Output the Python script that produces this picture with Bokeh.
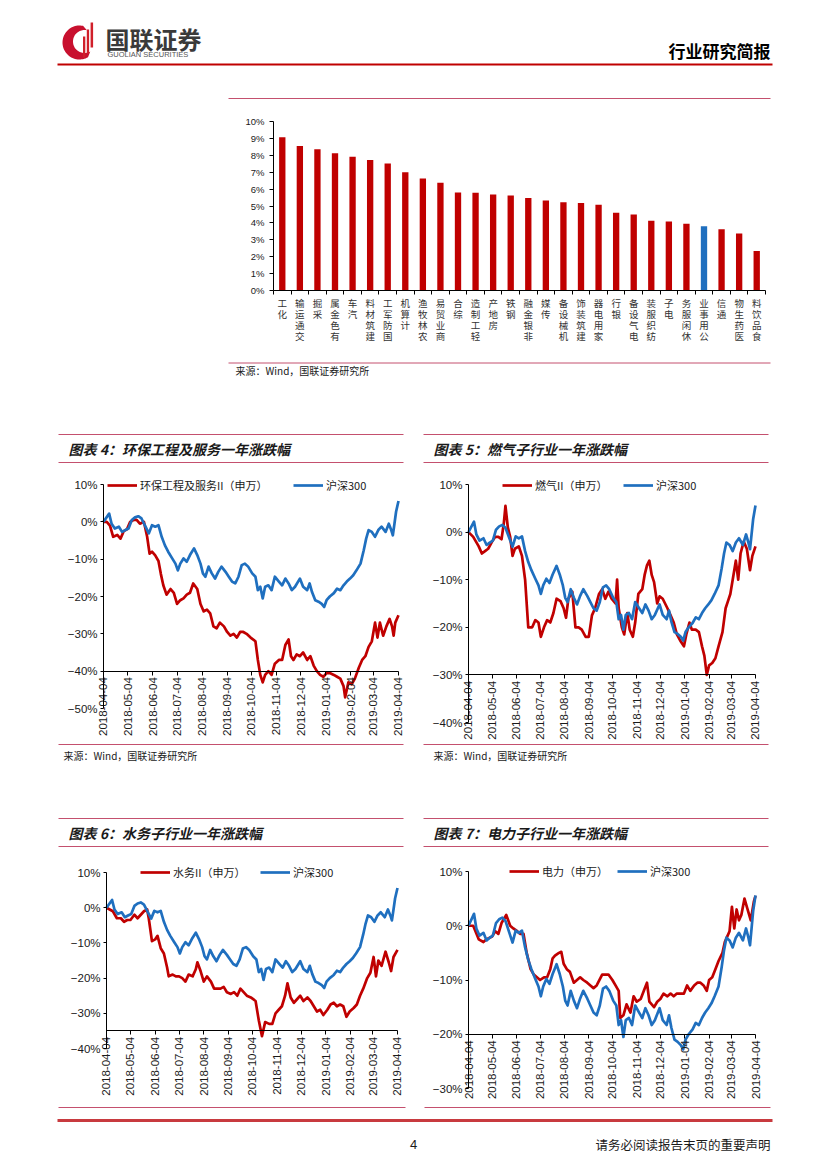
import numpy as np
from bokeh.plotting import figure
from bokeh.layouts import column, row
from bokeh.models import Range1d, FixedTicker, Legend, LegendItem
from bokeh.core.properties import value
from bokeh.embed import file_html
from bokeh.resources import INLINE

# ---------------- data ----------------
sectors = ["化工", "交通运输", "采掘", "有色金属", "汽车", "建筑材料", "国防军工", "计算机",
           "农林牧渔", "商业贸易", "综合", "轻工制造", "房地产", "钢铁", "非银金融", "传媒",
           "机械设备", "建筑装饰", "家用电器", "银行", "电气设备", "纺织服装", "电子",
           "休闲服务", "公用事业", "通信", "医药生物", "食品饮料"]
sector_gain = [9.07, 8.55, 8.36, 8.12, 7.92, 7.72, 7.52, 7.00, 6.63, 6.38, 5.80, 5.78,
               5.68, 5.62, 5.48, 5.32, 5.22, 5.18, 5.08, 4.60, 4.50, 4.13, 4.09, 3.95,
               3.80, 3.62, 3.38, 2.33]
highlight = "公用事业"
bar_ticks = list(range(0, 11))
bar_tick_labels = ["0%", "1%", "2%", "3%", "4%", "5%", "6%", "7%", "8%", "9%", "10%"]

month_days = [0, 30, 61, 91, 122, 153, 183, 214, 244, 275, 306, 334, 365]
month_labels = ["2018-04-04", "2018-05-04", "2018-06-04", "2018-07-04", "2018-08-04",
                "2018-09-04", "2018-10-04", "2018-11-04", "2018-12-04", "2019-01-04",
                "2019-02-04", "2019-03-04", "2019-04-04"]

hs300_days = [0, 7, 10, 14, 19, 23, 27, 31, 35, 39, 43, 47, 52, 56, 60, 64, 68, 72, 76, 80,
              85, 89, 92, 95, 99, 103, 107, 112, 116, 120, 123, 126, 130, 134, 138, 142, 146,
              151, 155, 159, 163, 167, 171, 175, 179, 184, 188, 191, 194, 197, 200, 204, 208,
              212, 217, 221, 225, 229, 233, 237, 243, 247, 252, 255, 258, 262, 266, 270, 273,
              276, 280, 285, 289, 293, 297, 301, 305, 309, 313, 318, 322, 325, 328, 332, 336,
              340, 344, 349, 353, 356, 358, 360, 362, 365]
hs300_pct = [0, 2.2, -0.5, -1.8, -1.3, -2.7, -2.2, -1.8, 0.5, 1.2, 1.5, 0.9, -1.3, -3.1, -0.9,
             -1.3, -0.9, -4.0, -6.3, -8.0, -9.8, -11.2, -13.0, -11.2, -9.8, -10.7, -8.9, -7.1,
             -8.9, -11.2, -13.8, -14.7, -12.0, -13.8, -15.2, -13.4, -12.0, -13.4, -14.7, -16.0,
             -16.5, -14.7, -11.6, -11.2, -12.0, -13.8, -14.7, -18.3, -17.4, -20.5, -17.4, -17.0,
             -18.3, -14.7, -16.0, -17.0, -15.2, -16.5, -18.3, -17.4, -15.2, -17.4, -18.3, -16.5,
             -18.8, -21.0, -21.4, -22.0, -22.8, -21.0, -20.0, -19.1, -17.9, -18.3, -17.0, -16.0,
             -15.2, -14.3, -13.0, -11.2, -7.6, -4.5, -2.2, -2.7, -4.0, -2.2, -1.3, -2.7, -0.5,
             -2.2, -3.6, -0.5, 2.7, 5.6]

env_days = [0, 4, 8, 12, 17, 21, 25, 29, 33, 37, 41, 45, 50, 54, 57, 60, 64, 68, 71, 74, 78, 83,
            87, 91, 95, 99, 103, 107, 111, 116, 120, 124, 128, 132, 136, 140, 144, 149, 153, 157,
            161, 165, 169, 173, 177, 182, 188, 191, 194, 197, 200, 204, 208, 212, 217, 221, 225,
            229, 232, 235, 239, 243, 247, 252, 256, 260, 264, 268, 272, 276, 280, 285, 289, 293,
            297, 299, 303, 307, 311, 316, 320, 324, 328, 332, 336, 339, 342, 346, 350, 354, 357,
            359, 361, 365]
env_pct = [0, 0, -1, -4, -3.5, -4.5, -2.5, -2, 0, 0.5, 0.5, -0.5, 0, -4, -8.5, -8, -9, -10.5, -14,
           -17, -19.5, -18, -19, -22, -21, -20.5, -19.5, -19, -16.5, -18, -22, -24, -23.5, -24.5,
           -28, -28.5, -27, -28, -29.5, -30.5, -30, -31, -29.5, -29.5, -30, -31, -32, -37, -41,
           -43, -41, -40, -41, -38, -37, -37, -33, -31.5, -36, -37, -35.5, -36, -35, -37, -36,
           -38.5, -40, -41, -41.5, -40.5, -40.5, -41, -41.5, -42, -44, -47, -43, -43.5, -42, -39,
           -37, -36, -33.5, -32, -27, -31, -27, -30.5, -28, -26, -28, -30.5, -27, -25]

gas_days = [0, 6, 13, 17, 21, 25, 30, 34, 38, 42, 45, 47, 50, 53, 56, 59, 64, 68, 72, 76, 81, 85,
            89, 92, 96, 100, 104, 108, 112, 117, 121, 124, 127, 132, 136, 140, 144, 149, 153, 157,
            161, 166, 170, 174, 178, 182, 187, 189, 191, 195, 198, 202, 205, 209, 212, 216, 221,
            224, 227, 230, 233, 236, 240, 243, 247, 253, 257, 261, 265, 270, 274, 277, 281, 284,
            289, 293, 297, 300, 303, 306, 310, 314, 318, 323, 327, 330, 333, 337, 340, 343, 346,
            350, 354, 358, 361, 365]
gas_pct = [0, -1, -3, -4.5, -4, -3.5, -2, -1, -1, -1.5, 2, 5.5, 1, -1, -5, -3.5, -3, -5, -10, -20,
           -20, -18.5, -19, -22, -20, -18.5, -19, -17, -14, -14.5, -16, -18, -14, -12.5, -20, -20,
           -20.5, -22, -22, -17.5, -16, -13, -12, -14, -12.5, -14, -15, -10, -16, -20, -21.5, -17,
           -20.5, -22, -19, -13, -12, -9, -7, -6, -9, -10.5, -15, -13.5, -14, -16, -17.5, -19,
           -21.5, -23, -24, -21.5, -19, -20.5, -20.5, -21, -24, -26, -30, -28, -27.5, -26.5, -24,
           -21, -16, -14.5, -13, -9, -6, -10, -4.5, -2, -3.5, -8, -5, -3]

water_days = [0, 8, 13, 18, 22, 26, 30, 35, 39, 43, 47, 51, 53, 57, 61, 64, 68, 72, 76, 78, 83,
              87, 91, 95, 99, 103, 108, 112, 114, 118, 122, 126, 131, 135, 139, 143, 147, 151,
              156, 160, 164, 168, 172, 176, 181, 187, 191, 195, 199, 204, 208, 212, 216, 220,
              224, 227, 231, 235, 239, 243, 247, 252, 256, 260, 264, 268, 272, 277, 281, 285,
              289, 293, 297, 301, 305, 310, 314, 318, 322, 327, 331, 335, 338, 341, 345, 350,
              354, 357, 360, 365]
water_pct = [0, -1, -3, -3, -4, -3.5, -3.5, -2, -3, -2, -1, -0.5, -3, -9.5, -9, -8, -11.5, -13,
             -17, -19.5, -19, -19.5, -19.5, -20, -21, -19, -19.5, -17.5, -15.5, -18, -21, -19.5,
             -21, -23, -23, -23, -22.5, -24, -24.5, -24, -25, -23, -24, -25, -25.5, -26.5, -32,
             -36.5, -32.5, -33, -33, -30, -29, -28, -25, -21.5, -25.5, -27, -26, -25, -26.5,
             -25.5, -26.5, -28, -29.5, -29, -30.5, -29, -27.5, -27, -28, -27.5, -28, -31, -29.5,
             -28.5, -27.5, -25, -23, -20, -18.5, -14, -19.5, -15, -16.5, -12.5, -15.5, -18, -14,
             -12]

power_days = [0, 6, 13, 19, 23, 30, 34, 38, 42, 48, 53, 57, 62, 66, 70, 74, 79, 83, 87, 91, 96,
              100, 104, 107, 110, 115, 118, 121, 125, 129, 134, 138, 142, 146, 151, 155, 159,
              163, 170, 174, 178, 183, 187, 191, 193, 197, 201, 206, 210, 214, 219, 223, 227,
              230, 236, 240, 244, 248, 253, 257, 261, 265, 270, 274, 278, 282, 287, 291, 295,
              299, 303, 306, 310, 314, 318, 323, 326, 329, 332, 335, 338, 341, 344, 347, 351,
              354, 359, 363, 365]
power_pct = [0, 0, -2.5, -3, -2.5, -2, -1, -1.5, 0.5, 2, 0, -0.5, -1, -1.5, -1.5, -5, -8, -9,
             -9.5, -10, -9.5, -9.5, -8, -6, -5.5, -5, -4.8, -7, -8, -8.5, -10.5, -10, -9.5, -10,
             -10.5, -11, -11.5, -11, -9, -9, -9, -10, -11, -12, -17, -16.5, -14.5, -16, -13, -14,
             -13.5, -12, -10.5, -14, -15, -14, -13.5, -12.5, -13, -12.5, -13, -12.5, -12.5,
             -12.5, -11, -12, -11, -10.5, -10.5, -11, -12, -10, -9.5, -8, -6.5, -5, -3, -2, -1,
             3.5, -0.5, 3, 1, 2, 5, 3.5, 1, 4.5, 5.5]

# ---------------- style ----------------
CJK = "Noto Sans CJK SC"
LAT = "Liberation Sans"
RED = "#C00000"
BLUE = "#1F6FBF"
PINK = "#C4506E"
DARK = "#1a1a1a"
W = 827


def decor(top, bottom):
    p = figure(width=W, height=bottom - top, x_range=Range1d(0, W), y_range=Range1d(bottom, top),
               toolbar_location=None, output_backend="svg", title=None,
               x_axis_location=None, y_axis_location=None,
               min_border_left=0, min_border_right=0, min_border_top=0, min_border_bottom=0,
               outline_line_color=None)
    p.grid.visible = False
    return p


def hline(p, x0, x1, y, color=PINK, w=1.0):
    p.line([x0, x1], [y, y], line_color=color, line_width=w)


def txt(p, x, y, s, size, font=CJK, color=DARK, align="left", style="normal"):
    p.text(x=[x], y=[y], text=[s], text_font=value(font), text_font_size=value(size),
           text_color=color, text_align=align, text_baseline="middle", text_font_style=style)


# ---------------- header ----------------
hdr = decor(0, 105)
th = np.radians(np.linspace(78, 300, 50))
ox = 79 + 17 * np.cos(th)
oy = 42 - 17 * np.sin(th)
ix = 84 + 11.5 * np.cos(th[::-1])
iy = 41 - 11.5 * np.sin(th[::-1])
hdr.patch(list(ox) + list(ix), list(oy) + list(iy), fill_color="#C8102E", line_color=None)
hdr.quad(left=[82.5, 86.3, 90.1], right=[84.8, 88.6, 92.6], top=[36, 29, 22], bottom=[57, 53, 47],
         fill_color="#D0202A", line_color=None)
txt(hdr, 105, 37.5, "国联证券", "24px", color="#3a3a3a", style="bold")
txt(hdr, 107, 53.5, "GUOLIAN SECURITIES", "7.5px", font=LAT, color="#555555")
txt(hdr, 770, 50, "行业研究简报", "17px", color="#000000", align="right", style="bold")
hline(hdr, 57, 772, 64, color=RED, w=2)
hline(hdr, 228, 770, 98, color=PINK, w=1)

# ---------------- bar chart ----------------
pb = figure(width=W, height=255, x_range=Range1d(-0.5, len(sectors) - 0.5), y_range=Range1d(0, 10),
            toolbar_location=None, output_backend="svg", title=None,
            min_border_left=273, min_border_right=62, min_border_top=16, min_border_bottom=70,
            outline_line_color=None)
pb.grid.visible = False
bar_colors = [BLUE if s == highlight else RED for s in sectors]
pb.vbar(x=list(range(len(sectors))), top=sector_gain, width=0.36, fill_color=bar_colors, line_color=None)
ya = pb.yaxis[0]
ya.ticker = FixedTicker(ticks=bar_ticks)
ya.major_label_overrides = dict(zip(bar_ticks, bar_tick_labels))
ya.major_label_text_font = LAT
ya.major_label_text_font_size = "9.5px"
ya.major_label_text_color = DARK
ya.major_tick_out = 4
ya.major_tick_in = 0
ya.minor_tick_line_color = None
ya.major_label_standoff = 5
ya.axis_line_color = "#000000"
xa = pb.xaxis[0]
xa.ticker = FixedTicker(ticks=list(range(len(sectors))),
                        minor_ticks=[i - 0.5 for i in range(len(sectors) + 1)])
xa.major_label_overrides = {i: "\n".join(reversed(s)) for i, s in enumerate(sectors)}
xa.major_tick_out = 0
xa.major_tick_in = 0
xa.minor_tick_out = 4
xa.minor_tick_in = 0
xa.major_label_standoff = 1
xa.major_label_text_font = CJK
xa.major_label_text_font_size = "9.5px"
xa.major_label_text_line_height = 0.8
xa.major_label_text_color = "#333333"
xa.axis_line_color = "#000000"

# ---------------- decor between ----------------
mid1 = decor(360, 466)
hline(mid1, 228, 770, 362.5)
txt(mid1, 235, 370, "来源：Wind，国联证券研究所", "10px")
for x0, x1 in [(58, 403), (423, 768)]:
    hline(mid1, x0, x1, 434)
    hline(mid1, x0, x1, 462)
txt(mid1, 68, 448, "图表 4：环保工程及服务一年涨跌幅", "14px", style="bold italic")
txt(mid1, 433, 448, "图表 5：燃气子行业一年涨跌幅", "14px", style="bold italic")


def line_chart(width, height, left_px, plot_w, top_px, px_per_pct, tick_min, axis_at,
               days, pct, label, lx_red, lx_blue, leg_y):
    # whole figure is the frame; axes sit at fixed locations inside it
    px_per_day = plot_w / 365.0
    x0 = -left_px / px_per_day
    x1 = 365 + (width - left_px - plot_w) / px_per_day
    y1 = 10 + top_px / px_per_pct
    y0 = 10 - (height - top_px) / px_per_pct
    p = figure(width=width, height=height, x_range=Range1d(x0, x1), y_range=Range1d(y0, y1),
               toolbar_location=None, output_backend="svg", title=None,
               min_border_left=0, min_border_right=0, min_border_top=0, min_border_bottom=0,
               outline_line_color=None)
    p.grid.visible = False
    yax = p.yaxis[0]
    yt = list(range(tick_min, 11, 10))
    yax.ticker = FixedTicker(ticks=yt)
    yax.bounds = (tick_min, 10)
    yax.fixed_location = 0
    yax.major_label_overrides = {t: (f"{t}%").replace("-", "\u2212") for t in yt}
    yax.major_label_text_font = LAT
    yax.major_label_text_font_size = "11.5px"
    yax.major_label_text_color = DARK
    yax.major_tick_out = 3
    yax.major_tick_in = 0
    yax.minor_tick_line_color = None
    yax.major_label_standoff = 3
    yax.axis_line_color = "#000000"
    xax = p.xaxis[0]
    xax.ticker = FixedTicker(ticks=month_days)
    xax.bounds = (0, 365)
    xax.major_label_overrides = dict(zip(month_days, month_labels))
    xax.major_label_orientation = np.pi / 2
    xax.fixed_location = axis_at
    xax.major_label_text_font = LAT
    xax.major_label_text_font_size = "11.5px"
    xax.major_label_text_color = DARK
    xax.major_tick_out = 4
    xax.major_tick_in = 0
    xax.minor_tick_line_color = None
    xax.major_label_standoff = 2
    xax.axis_line_color = "#000000"
    r_red = p.line(days, pct, line_color=RED, line_width=2.7, line_join="round")
    r_blue = p.line(hs300_days, hs300_pct, line_color=BLUE, line_width=2.7, line_join="round")
    for r, lab, lx in [(r_red, label, lx_red), (r_blue, "沪深300", lx_blue)]:
        leg = Legend(items=[LegendItem(label=lab, renderers=[r])], location=(lx, leg_y),
                     orientation="horizontal", background_fill_alpha=0, border_line_color=None,
                     padding=0, margin=0, spacing=0, glyph_width=30, glyph_height=16,
                     label_height=16, label_width=10, label_standoff=3,
                     label_text_font=CJK, label_text_font_size="11px", label_text_color=DARK)
        p.add_layout(leg)
    return p


# row 1 : page y 466..740 ; 10% level at y=484
c4 = line_chart(415, 274, 103, 295, 18, 224 / 60, -50, -40, env_days, env_pct,
                "环保工程及服务II（申万）", 107, 293, 247)
c5 = line_chart(412, 274, 53, 287, 18, 238 / 50, -40, -30, gas_days, gas_pct,
                "燃气II（申万）", 87, 208, 247)

mid2 = decor(740, 850)
for x0, x1 in [(58, 403), (423, 768)]:
    hline(mid2, x0, x1, 744)
    hline(mid2, x0, x1, 818)
    hline(mid2, x0, x1, 846)
txt(mid2, 63, 755, "来源：Wind，国联证券研究所", "10px")
txt(mid2, 433, 755, "来源：Wind，国联证券研究所", "10px")
txt(mid2, 68, 832, "图表 6：水务子行业一年涨跌幅", "14px", style="bold italic")
txt(mid2, 433, 832, "图表 7：电力子行业一年涨跌幅", "14px", style="bold italic")

# row 2 : page y 850..1104
c6 = line_chart(415, 254, 106, 291, 22, 176 / 50, -40, -35, water_days, water_pct,
                "水务II（申万）", 140, 260, 224)
c7 = line_chart(412, 254, 53, 287, 21, 217 / 40, -30, -20, power_days, power_pct,
                "电力（申万）", 94, 202, 225)

ftr = decor(1104, 1169)
hline(ftr, 58, 405, 1107)
hline(ftr, 424, 770, 1107)
hline(ftr, 57, 772, 1120, color="#C83A3F", w=3)
txt(ftr, 413, 1144, "4", "13px", font=LAT, align="center")
txt(ftr, 770, 1144, "请务必阅读报告末页的重要声明", "12.5px", align="right")

page = column(row(hdr), row(pb), row(mid1), row(column(c4), column(c5)), row(mid2),
              row(column(c6), column(c7)), row(ftr))
open("out.html", "w").write(file_html(page, INLINE))
